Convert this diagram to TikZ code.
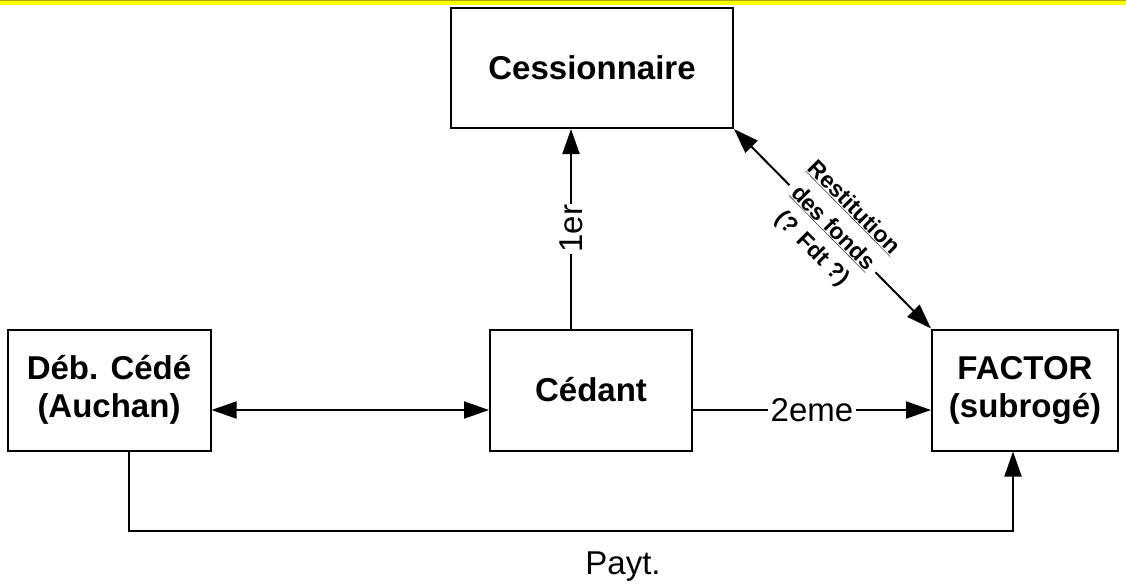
\documentclass[tikz,border=0pt]{standalone}
\usepackage{fontspec}
\setmainfont{Liberation Sans}
\usetikzlibrary{arrows.meta}
\definecolor{topband}{RGB}{255,255,0}
\definecolor{topline}{RGB}{170,170,0}
\begin{document}
\begin{tikzpicture}[x=1pt,y=-1pt,
  box/.style={draw=black,line width=2pt,fill=white,align=center,
    font=\fontsize{33}{38}\selectfont\bfseries,inner sep=0pt},
  conn/.style={line width=2pt,draw=black},
  arr/.style={conn,-{Triangle[length=25pt,width=17pt]}},
  darr/.style={conn,{Triangle[length=25pt,width=17pt]}-{Triangle[length=25pt,width=17pt]}},
  lbl/.style={fill=white,inner sep=2pt,font=\fontsize{33}{38}\selectfont},
  dlbl/.style={fill=white,inner sep=1pt,align=center,
    font=\fontsize{23}{29}\selectfont\bfseries}]
\useasboundingbox (0,0) rectangle (1126,587);
\fill[topband] (0,0) rectangle (1126,5);
\draw[topline,line width=1pt] (0,0.5) -- (1126,0.5);

\node[box,minimum width=282pt,minimum height=120pt] (cession) at (592,68) {Cessionnaire};
\node[box,minimum width=202pt,minimum height=121pt] (cedant) at (591,390) {Cédant};
\node[box,minimum width=203pt,minimum height=121pt] (deb) at (109,390) {Déb. Cédé\\(Auchan)};
\node[box,minimum width=186pt,minimum height=121pt] (factor) at (1025,390) {FACTOR\\(subrogé)};

\draw[arr] ([xshift=-20pt]cedant.north) -- ([xshift=-20pt]cedant.north |- cession.south)
  node[lbl,pos=0.5,rotate=90,inner xsep=1pt] {1er};
\draw[darr] ([yshift=-20pt]deb.east) -- ([yshift=-20pt]cedant.west);
\draw[arr] ([yshift=-20pt]cedant.east) -- ([yshift=-20pt]factor.west)
  node[lbl,pos=0.5,inner xsep=3pt] {2eme};
\draw[darr] (cession.south east) -- (factor.north west)
  node[dlbl,pos=0.5,sloped] {\underline{Restitution}\\\underline{des fonds}\\(? Fdt ?)};
\draw[arr] ([xshift=20pt]deb.south) -- ++(0,79) -| ([xshift=-12pt]factor.south);
\node[font=\fontsize{33}{38}\selectfont,inner sep=0pt] (payt) at (623,567) {Payt.};
\end{tikzpicture}
\end{document}
